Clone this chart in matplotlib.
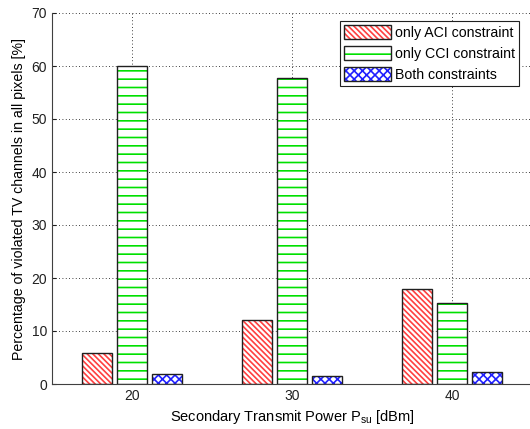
import numpy as np
import matplotlib
matplotlib.use("Agg")
import matplotlib.pyplot as plt
from matplotlib.patches import Patch
from matplotlib.legend_handler import HandlerTuple

plt.rcParams['font.family'] = ['Liberation Sans', 'DejaVu Sans']
plt.rcParams['hatch.linewidth'] = 1.2

# data
powers = [20, 30, 40]
aci_only = [5.8, 12.1, 17.9]
cci_only = [60.0, 57.7, 15.3]
both = [1.8, 1.5, 2.2]

series = [
    ('only ACI constraint', aci_only, '#ff4040', '\\' * 6),
    ('only CCI constraint', cci_only, '#00e000', '--'),
    ('Both constraints', both, '#2020ff', 'xxxx'),
]

fig = plt.figure(figsize=(5.30, 4.29), dpi=100)
ax = fig.add_axes([52 / 530, 45 / 429, 480 / 530, 371 / 429])

x = np.array(powers, dtype=float)
width = 1.85
offsets = [-2.2, 0.0, 2.2]
handles = []
for (label, vals, col, hatch), off in zip(series, offsets):
    # hatch in colour, then outline in dark grey
    ax.bar(x + off, vals, width, color='white', edgecolor=col, hatch=hatch,
           linewidth=0, zorder=2)
    ax.bar(x + off, vals, width, fill=False, edgecolor='#202020',
           linewidth=1.0, zorder=3)
    h1 = Patch(facecolor='white', edgecolor=col, hatch=hatch, linewidth=0)
    h2 = Patch(fill=False, edgecolor='#202020', linewidth=1.0)
    handles.append((h1, h2))

ax.set_xlim(15, 45)
ax.set_ylim(0, 70)
ax.set_xticks(powers)
ax.set_yticks(range(0, 71, 10))

ax.grid(True, color='black', linestyle=(0, (1, 3)), linewidth=0.6, zorder=0)
ax.set_axisbelow(True)

for s in ['top', 'right']:
    ax.spines[s].set_visible(False)
for s in ['left', 'bottom']:
    ax.spines[s].set_color('#404040')
ax.tick_params(direction='in', length=3, labelsize=10, colors='#202020')

ax.set_xlabel('Secondary Transmit Power P$_{\\mathregular{su}}$ [dBm]', fontsize=10.5)
ax.set_ylabel('Percentage of violated TV channels in all pixels [%]', fontsize=10.2)

leg = ax.legend(handles, [s[0] for s in series],
                handler_map={tuple: HandlerTuple(ndivide=1, pad=0)},
                loc='upper right', bbox_to_anchor=(467 / 480, 363 / 371),
                fontsize=10.2, frameon=True, fancybox=False, framealpha=1,
                edgecolor='#202020', borderpad=0.3, labelspacing=0.45,
                handlelength=3.3, handleheight=1.1, handletextpad=0.3,
                borderaxespad=0)
leg.get_frame().set_linewidth(0.8)

fig.savefig('out.png', dpi=100)
